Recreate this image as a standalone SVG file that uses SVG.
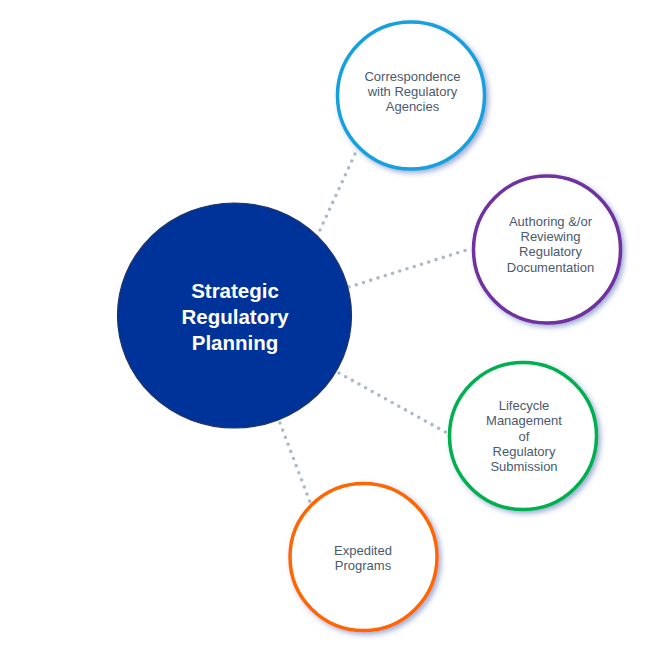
<svg xmlns="http://www.w3.org/2000/svg" width="654" height="646" viewBox="0 0 654 646">
<defs>
<filter id="sh" x="-20%" y="-20%" width="150%" height="150%">
<feDropShadow dx="2.5" dy="2.5" stdDeviation="2.5" flood-color="#2E4A9E" flood-opacity="0.45"/>
</filter>
<style>
.con{stroke:#ADB9C6;stroke-width:3.6;stroke-linecap:round;stroke-dasharray:0 7.6;fill:none}
.node{fill:#FFFFFF;stroke-width:3.5;filter:url(#sh)}
.lbl{font-family:"Liberation Sans",Arial,sans-serif;font-size:13px;fill:#4A5A6E;text-anchor:middle}
.main{font-family:"Liberation Sans",Arial,sans-serif;font-size:20.5px;font-weight:bold;fill:#FFFFFF;text-anchor:middle}
</style>
</defs>
<rect width="654" height="646" fill="#FFFFFF"/>
<g id="connectors">
<line class="con" x1="320" y1="230" x2="355" y2="154"/>
<line class="con" x1="349" y1="287" x2="470" y2="249"/>
<line class="con" x1="339" y1="373" x2="447" y2="433"/>
<line class="con" x1="280" y1="423" x2="310" y2="502"/>
</g>
<g id="center">
<ellipse cx="234.5" cy="315.5" rx="117" ry="112.5" fill="#003399" stroke="#1F3468" stroke-width="1.2"/>
<text class="main" x="235" y="298">Strategic</text>
<text class="main" x="235" y="324">Regulatory</text>
<text class="main" x="235" y="349.5">Planning</text>
</g>
<g id="correspondence">
<circle class="node" cx="411" cy="95.5" r="73.5" stroke="#12A0DF"/>
<text class="lbl" x="412.5" y="81">Correspondence</text>
<text class="lbl" x="412.5" y="96">with Regulatory</text>
<text class="lbl" x="412.5" y="111">Agencies</text>
</g>
<g id="authoring">
<circle class="node" cx="547" cy="249.5" r="73.5" stroke="#7030A0"/>
<text class="lbl" x="550.5" y="226">Authoring &amp;/or</text>
<text class="lbl" x="550.5" y="241">Reviewing</text>
<text class="lbl" x="550.5" y="256">Regulatory</text>
<text class="lbl" x="550.5" y="272">Documentation</text>
</g>
<g id="lifecycle">
<circle class="node" cx="523" cy="436" r="73.5" stroke="#00B050"/>
<text class="lbl" x="524" y="410">Lifecycle</text>
<text class="lbl" x="524" y="425">Management</text>
<text class="lbl" x="524" y="440.5">of</text>
<text class="lbl" x="524" y="456">Regulatory</text>
<text class="lbl" x="524" y="471">Submission</text>
</g>
<g id="expedited">
<circle class="node" cx="363.5" cy="557" r="73.5" stroke="#FF6600"/>
<text class="lbl" x="363" y="554.5">Expedited</text>
<text class="lbl" x="363" y="569.5">Programs</text>
</g>
</svg>
